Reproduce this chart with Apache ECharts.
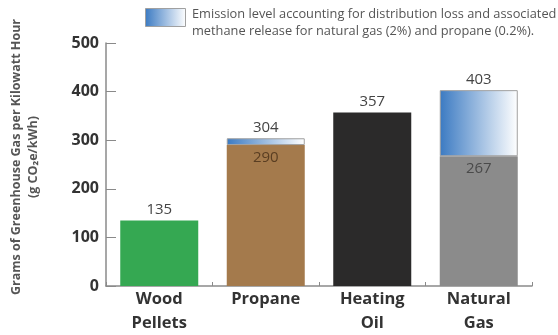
<!DOCTYPE html>
<html>
<head>
<meta charset="utf-8">
<script src="https://cdn.jsdelivr.net/npm/echarts@6/dist/echarts.min.js"></script>
<style>
  html, body { margin: 0; padding: 0; background: #fff; }
  #chart { width: 558px; height: 335px; }
</style>
</head>
<body>
<div id="chart"></div>
<script>
// Heating fuels and their greenhouse gas emissions (g CO2e per kWh)
const categories = ['Wood\nPellets', 'Propane', 'Heating\nOil', 'Natural\nGas'];
const combustionValues = [135, 290, 357, 267];
const totalValues = [135, 304, 357, 403];
const fuelColors = ['#35a852', '#a47a4c', '#2b2a2a', '#8b8b8b'];
const insideLabelColors = [null, '#5a3e22', null, '#4a4a4a'];
const yTicks = [0, 100, 200, 300, 400, 500];

const legendText = 'Emission level accounting for distribution loss and associated\nmethane release for natural gas (2%) and propane (0.2%).';

const lossGradient = () => new echarts.graphic.LinearGradient(0, 0, 1, 0, [
  { offset: 0, color: '#3b7ac2' },
  { offset: 1, color: '#ffffff' }
]);

const baseData = combustionValues.map((v, i) => {
  const hasLoss = totalValues[i] > v;
  return {
    value: v,
    itemStyle: { color: fuelColors[i] },
    label: hasLoss
      ? { show: true, position: 'insideTop', distance: 5, color: insideLabelColors[i] }
      : { show: true, position: 'top', distance: 3, color: '#444' }
  };
});

const lossData = totalValues.map((t, i) => {
  const extra = t - combustionValues[i];
  return extra > 0
    ? { value: extra, total: t, label: { show: true } }
    : { value: 0, total: t, label: { show: false }, itemStyle: { borderWidth: 0 } };
});

const chart = echarts.init(document.getElementById('chart'));
chart.setOption({
  animation: false,
  textStyle: { fontFamily: 'Open Sans' },
  grid: { left: 101, right: 26, top: 43, bottom: 49, containLabel: false },
  // key for the distribution-loss segment: gradient swatch plus two-line note
  graphic: [
    {
      type: 'rect',
      left: 145,
      top: 8,
      shape: { width: 40, height: 18 },
      style: { fill: lossGradient(), stroke: '#a0a0a0', lineWidth: 1 }
    },
    {
      type: 'text',
      left: 192,
      top: 6,
      style: {
        text: legendText,
        font: '12.8px "Open Sans"',
        fill: '#555',
        lineHeight: 17
      }
    }
  ],
  xAxis: {
    type: 'category',
    data: categories,
    axisLine: { lineStyle: { color: '#8a8a8a', width: 1.5 } },
    axisTick: { show: true, inside: true, length: 4, alignWithLabel: false, lineStyle: { color: '#8a8a8a' } },
    axisLabel: {
      color: '#333',
      fontSize: 16.5,
      fontWeight: 'bold',
      lineHeight: 24,
      margin: 1
    }
  },
  yAxis: {
    type: 'value',
    min: yTicks[0],
    max: yTicks[yTicks.length - 1],
    interval: 100,
    name: 'Grams of Greenhouse Gas per Kilowatt Hour\n(g CO\u2082e/kWh)',
    nameLocation: 'middle',
    nameRotate: 90,
    nameGap: 64,
    nameTextStyle: { fontSize: 12.5, fontWeight: 'bold', color: '#555', lineHeight: 17, padding: [0, 0, 0, 15] },
    axisLine: { show: true, lineStyle: { color: '#8a8a8a', width: 1.5 } },
    axisTick: { show: true, inside: true, length: 10, lineStyle: { color: '#8a8a8a' } },
    splitLine: { show: false },
    axisLabel: { color: '#333', fontSize: 16, fontWeight: 'bold', margin: 7 }
  },
  series: [
    {
      name: 'combustion',
      type: 'bar',
      stack: 'total',
      barWidth: 78,
      data: baseData,
      label: { fontSize: 15, color: '#444' }
    },
    {
      name: 'loss',
      type: 'bar',
      stack: 'total',
      barWidth: 78,
      data: lossData,
      itemStyle: { color: lossGradient(), borderColor: '#a0a0a0', borderWidth: 1 },
      label: {
        position: 'top',
        distance: 3,
        fontSize: 15,
        color: '#444',
        formatter: p => String(p.data.total)
      }
    }
  ]
});
</script>
</body>
</html>
